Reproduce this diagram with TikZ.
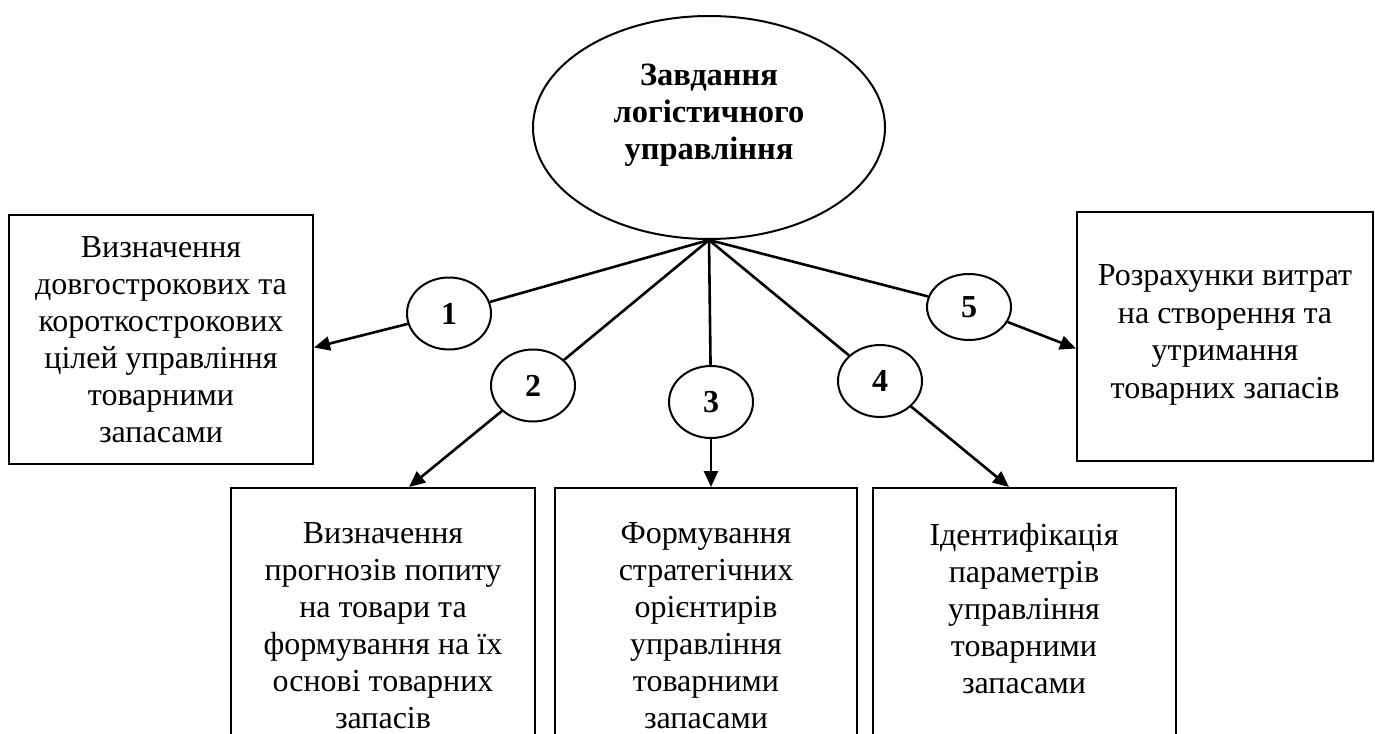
\documentclass[tikz,border=0pt]{standalone}
\usepackage{fontspec}
\setmainfont{Liberation Serif}
\usetikzlibrary{shapes.geometric,arrows.meta}
\tikzset{
  txt/.style={font=\fontsize{32}{37}\selectfont, align=center},
  box/.style={draw, line width=2pt, inner sep=0pt, txt},
  numc/.style={draw, ellipse, line width=2pt, inner sep=0pt, minimum width=84pt, font=\fontsize{32}{37}\selectfont\bfseries},
  conn/.style={line width=2.6pt},
  arr/.style={line width=2.6pt, -{Triangle[length=16pt,width=14pt]}},
}
\begin{document}
\begin{tikzpicture}[x=1pt,y=-1pt]
\useasboundingbox (0,0) rectangle (1375,733);
\clip (0,0) rectangle (1375,733);
% central ellipse
\node[draw, ellipse, line width=2pt, minimum width=352pt, minimum height=223pt, inner sep=0pt] (top) at (709,127.5) {};
\node[txt, font=\fontsize{32.5}{37}\selectfont\bfseries] (toptxt) at (709,115) {Завдання\\логістичного\\управління};
% boxes
\node[box, minimum width=304pt, minimum height=249pt] (b1) at (161,339.5) {Визначення\\довгострокових та\\короткострокових\\цілей управління\\товарними\\запасами};
\node[box, minimum width=296pt, minimum height=249pt, font=\fontsize{32}{37.5}\selectfont] (b5) at (1225,336.5) {Розрахунки витрат\\на створення та\\утримання\\товарних запасів\\[-28pt]\mbox{}};
\node[box, minimum width=304pt, minimum height=275pt] (b2) at (383,625.5) {Визначення\\прогнозів попиту\\на товари та\\формування на їх\\основі товарних\\запасів};
\node[box, minimum width=302pt, minimum height=275pt] (b3) at (706,625.5) {Формування\\стратегічних\\орієнтирів\\управління\\товарними\\запасами};
\node[box, minimum width=303pt, minimum height=275pt] (b4) at (1024,625.5) {};
\node[txt] (b4txt) at (1024,609) {Ідентифікація\\параметрів\\управління\\товарними\\запасами};
% number ellipses
\node[numc, minimum height=72pt] (c1) at (449,313.5) {1};
\node[numc, minimum height=72pt] (c2) at (533,385.5) {2};
\node[numc, minimum height=72pt] (c3) at (711,402) {3};
\node[numc, minimum height=72pt] (c4) at (880,381) {4};
\node[numc, minimum height=66pt] (c5) at (969,307) {5};
% connectors
\draw[conn] (top.south) -- (c1);
\draw[conn] (top.south) -- (c2);
\draw[conn] (top.south) -- (c3);
\draw[conn] (top.south) -- (c4);
\draw[conn] (top.south) -- (c5);
\draw[arr] (c1) -- ([yshift=-8pt]b1.east);
\draw[arr] (c2) -- ([xshift=26pt]b2.north);
\draw[arr] (c3) -- (c3 |- b3.north);
\draw[arr] (c4) -- ([xshift=-15pt]b4.north);
\draw[arr] (c5) -- ([yshift=-12pt]b5.west);
\end{tikzpicture}
\end{document}
